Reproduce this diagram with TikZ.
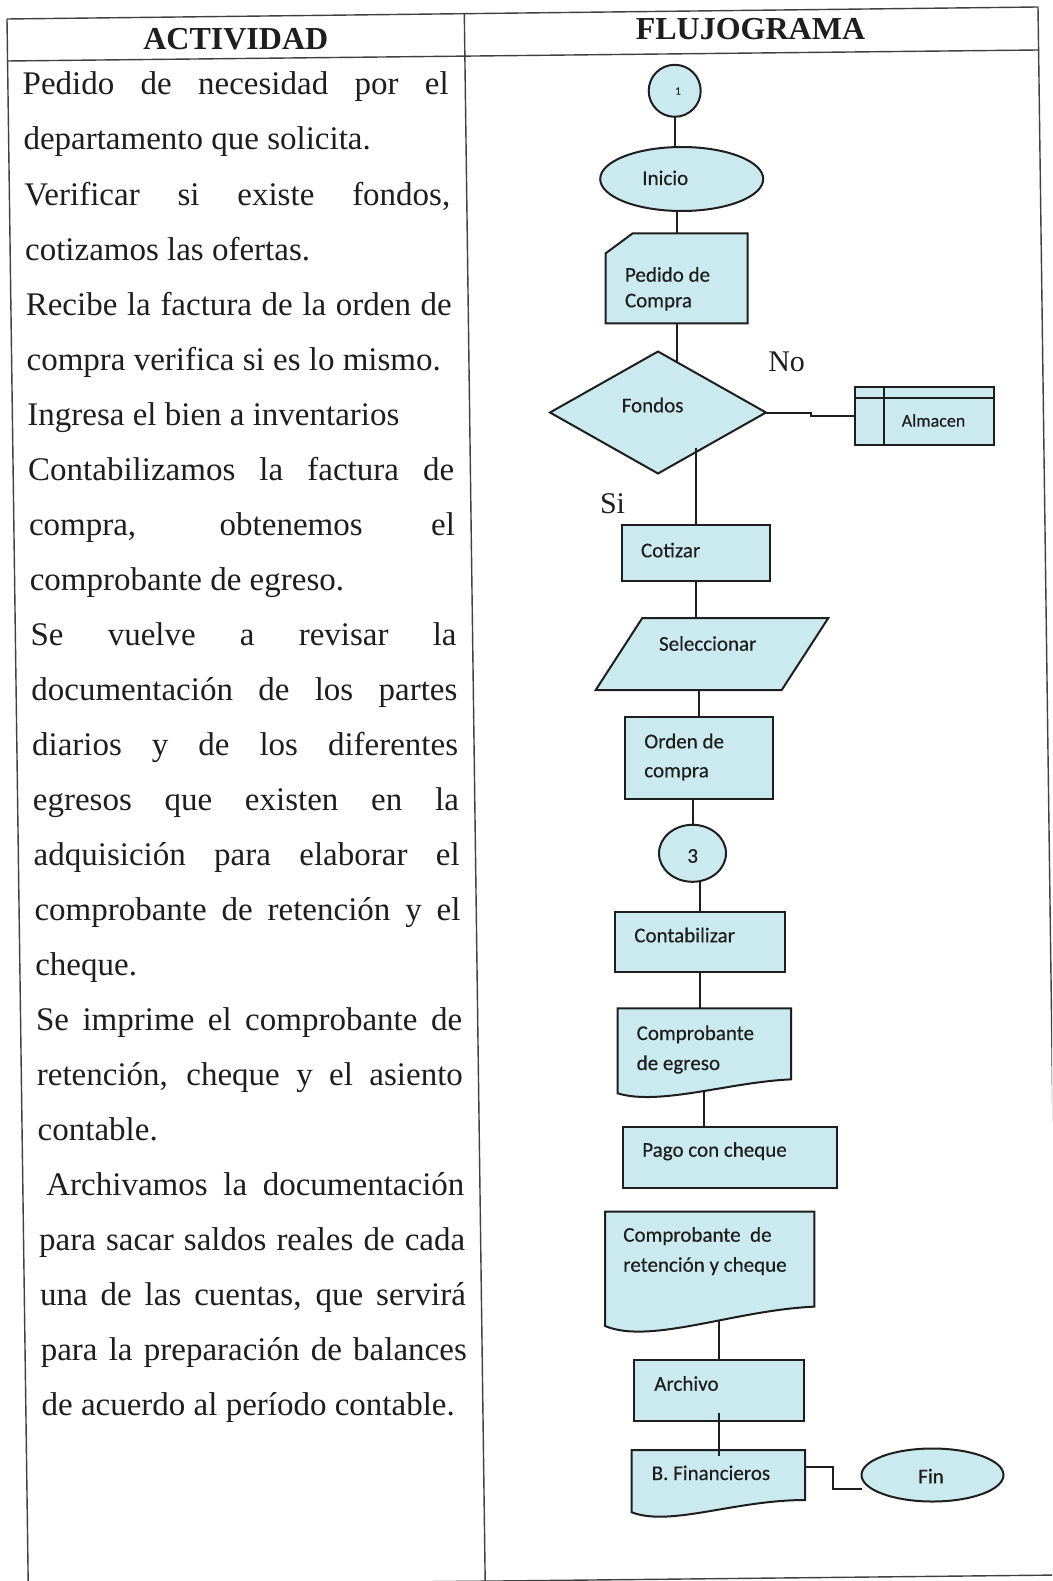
\documentclass[tikz,border=0pt]{standalone}
\usepackage{fontspec}
\setmainfont{Liberation Serif}
\newfontfamily\flowfont[FakeBold=0.4]{Carlito}
\usetikzlibrary{shapes.geometric,calc,backgrounds}
\definecolor{fillblue}{RGB}{203,234,240}
\definecolor{ink}{RGB}{30,30,30}
\tikzset{
  shp/.style={draw=ink, line width=2pt, fill=fillblue, inner sep=0pt, outer sep=0pt},
  ghost/.style={draw=none, fill=none, rectangle, inner sep=0pt, outer sep=0pt},
  conn/.style={draw=ink, line width=2pt},
  tbl/.style={draw=black!75, line width=1.4pt},
  lbl/.style={inner sep=0pt, outer sep=0pt, anchor=base west, text=ink, font=\flowfont\fontsize{21}{25}\selectfont},
  act/.style={inner sep=0pt, outer sep=0pt, anchor=base west, text=ink, font=\fontsize{33}{40}\selectfont},
  hdr/.style={inner sep=0pt, outer sep=0pt, anchor=base, text=ink, font=\bfseries\fontsize{32}{38}\selectfont},
  yn/.style={inner sep=0pt, outer sep=0pt, anchor=base west, text=ink, font=\fontsize{30}{36}\selectfont}
}
\newcommand{\jl}[1]{\makebox[426pt][s]{#1}}
\begin{document}
\begin{tikzpicture}[x=1pt, y=-1pt]
\useasboundingbox (0,0) rectangle (1052,1581);
\begin{pgfonlayer}{background}
  \fill[white] (0,0) rectangle (1052,1581);
\end{pgfonlayer}
\clip (0,0) rectangle (1052,1581);

% ---------- table ----------
\draw[tbl] (7,19) -- (1038,7);
\draw[tbl] (7,61) -- (1038,50);
\draw[tbl] (7,19) -- (28.3,1590);
\draw[tbl] (464.3,13.7) -- (485.3,1590);
\draw[tbl] (1038,7) -- (1059.2,1590);
\draw[tbl] (28,1586) -- (1059,1575);

\node[hdr] (h1) at (235.8,50) {ACTIVIDAD};
\node[hdr] (h2) at (750.5,40) {FLUJOGRAMA};

% ---------- activity text ----------
\node[act] (a1)  at (22.7,95)   {\jl{Pedido de necesidad por el}};
\node[act] (a2)  at (23.5,150)  {departamento que solicita.};
\node[act] (a3)  at (24.3,205)  {\jl{Verificar si existe fondos,}};
\node[act] (a4)  at (25.1,260)  {cotizamos las ofertas.};
\node[act] (a5)  at (25.8,315)  {\jl{Recibe la factura de la orden de}};
\node[act] (a6)  at (26.6,370)  {compra verifica si es lo mismo.};
\node[act] (a7)  at (27.4,425)  {Ingresa el bien a inventarios};
\node[act] (a8)  at (28.2,480)  {\jl{Contabilizamos la factura de}};
\node[act] (a9)  at (29.0,535)  {\jl{compra, obtenemos el}};
\node[act] (a10) at (29.8,590)  {comprobante de egreso.};
\node[act] (a11) at (30.6,645)  {\jl{Se vuelve a revisar la}};
\node[act] (a12) at (31.4,700)  {\jl{documentación de los partes}};
\node[act] (a13) at (32.1,755)  {\jl{diarios y de los diferentes}};
\node[act] (a14) at (32.9,810)  {\jl{egresos que existen en la}};
\node[act] (a15) at (33.7,865)  {\jl{adquisición para elaborar el}};
\node[act] (a16) at (34.5,920)  {\jl{comprobante de retención y el}};
\node[act] (a17) at (35.3,975)  {cheque.};
\node[act] (a18) at (36.1,1030) {\jl{Se imprime el comprobante de}};
\node[act] (a19) at (36.9,1085) {\jl{retención, cheque y el asiento}};
\node[act] (a20) at (37.7,1140) {contable.};
\node[act] (a21) at (46.4,1195) {\makebox[418pt][s]{Archivamos la documentación}};
\node[act] (a22) at (39.2,1250) {\jl{para sacar saldos reales de cada}};
\node[act] (a23) at (40.0,1305) {\jl{una de las cuentas, que servirá}};
\node[act] (a24) at (40.8,1360) {\jl{para la preparación de balances}};
\node[act] (a25) at (41.6,1415) {de acuerdo al período contable.};

% ---------- flowchart nodes ----------
\node[shp, circle, minimum size=52pt] (c1) at (674.7,90.8) {};
\node[shp, ellipse, minimum width=163pt, minimum height=64pt] (ini) at (681.7,179) {};
\node[ghost, minimum width=142pt, minimum height=90pt] (ped) at (676.7,278.3) {};
\node[shp, diamond, minimum width=216pt, minimum height=122pt] (dia) at (658,412.5) {};
\node[shp, rectangle, minimum width=139pt, minimum height=58pt] (alm) at (924.7,416) {};
\node[shp, rectangle, minimum width=148pt, minimum height=56pt] (cot) at (695.5,553) {};
\node[ghost, minimum width=232.6pt, minimum height=72pt] (sel) at (712,654) {};
\node[shp, rectangle, minimum width=148pt, minimum height=82pt] (ord) at (698.8,757.5) {};
\node[shp, ellipse, minimum width=67pt, minimum height=57pt] (c3) at (692.5,853.3) {};
\node[shp, rectangle, minimum width=170pt, minimum height=60pt] (cont) at (700,941.7) {};
\node[ghost, minimum width=173.3pt, minimum height=89.7pt] (egr) at (704.35,1053.2) {};
\node[shp, rectangle, minimum width=214pt, minimum height=61pt] (pago) at (729.7,1157) {};
\node[ghost, minimum width=209.3pt, minimum height=121.3pt] (ret) at (709.65,1272.3) {};
\node[shp, rectangle, minimum width=170pt, minimum height=61pt] (arch) at (719.3,1390.3) {};
\node[ghost, minimum width=173.3pt, minimum height=68pt] (bfin) at (718.35,1484) {};
\node[shp, ellipse, minimum width=142pt, minimum height=53pt] (fin) at (932.5,1475) {};

\coordinate (k3) at (811,412.5);
\coordinate (k1) at (833.3,1466.7);
\coordinate (k2) at (833.3,1489.3);

% ---------- connectors (beneath the shapes) ----------
\begin{pgfonlayer}{background}
  \draw[conn] (c1.center) -- (c1.center |- ini.center);
  \draw[conn] (ped.center |- ini.center) -- (ped.center);
  \draw[conn] (ped.center) -- (ped.center |- dia.center);
  \draw[conn] (dia.center) -- (k3) -- (k3 |- alm.center) -- (alm.center);
  \draw[conn] (cot.center) -- (cot.center |- sel.center);
  \draw[conn] (ord.center |- sel.center) -- (ord.center);
  \draw[conn] (c3.center |- ord.center) -- (c3.center);
  \draw[conn] (cont.center |- c3.center) -- (cont.center);
  \draw[conn] (cont.center) -- (cont.center |- egr.center);
  \draw[conn] (egr.center) -- (egr.center |- pago.center);
  \draw[conn] (arch.center |- ret.center) -- (arch.center);
\end{pgfonlayer}

% ---------- custom outlines ----------
\draw[shp] ($(ped.north west)+(27,0)$) -- (ped.north east) -- (ped.south east)
  -- (ped.south west) -- ($(ped.north west)+(0,20)$) -- cycle;
\draw[shp] ($(sel.north west)+(46.6,0)$) -- (sel.north east)
  -- ($(sel.south east)+(-46.6,0)$) -- (sel.south west) -- cycle;
\draw[shp] (egr.north west) -- (egr.north east) -- ($(egr.north east)+(0,71)$)
  .. controls (730,1082) and (660,1106) .. ($(egr.north west)+(0,85)$) -- cycle;
\draw[shp] (ret.north west) -- (ret.north east) -- ($(ret.north east)+(0,95)$)
  .. controls (735,1310) and (650,1345) .. ($(ret.north west)+(0,114.3)$) -- cycle;
\draw[shp] (bfin.north west) -- (bfin.north east) -- ($(bfin.north east)+(0,50)$)
  .. controls (735,1500) and (670,1527) .. ($(bfin.north west)+(0,62.3)$) -- cycle;
\draw[draw=ink, line width=2pt] ($(alm.north west)+(0,11)$) -- ($(alm.north east)+(0,11)$);
\draw[draw=ink, line width=2pt] ($(alm.north west)+(28.3,0)$) -- ($(alm.south west)+(28.3,0)$);

% connectors that show over the shapes, as in the scan
\draw[conn] ($(cot.center |- dia.center)+(0,35.5)$) -- (cot.north);
\draw[conn] ($(arch.center |- arch.south)+(0,-8)$) -- ($(arch.center |- bfin.north)+(0,6)$);
\draw[conn] (bfin.north east |- k1) -- (k1) -- (k2) -- (fin.west |- k2);

% ---------- flowchart texts ----------
\node[lbl, anchor=center, font=\flowfont\fontsize{11}{13}\selectfont] (t1) at (678,91) {1};
\node[lbl] (tini) at (642.3,185) {Inicio};
\node[lbl] (tped1) at (625,281.7) {Pedido de};
\node[lbl] (tped2) at (625,307.3) {Compra};
\node[lbl] (tfon) at (621.7,412.3) {Fondos};
\node[lbl, font=\flowfont\fontsize{18}{22}\selectfont] (talm) at (901.7,426.7) {Almacen};
\node[yn] (tno) at (768.3,371.7) {No};
\node[yn] (tsi) at (600,513.3) {Si};
\node[lbl] (tcot) at (641,557.3) {Cotizar};
\node[lbl] (tsel) at (659,650.7) {Seleccionar};
\node[lbl] (tord1) at (644.3,748.3) {Orden de};
\node[lbl] (tord2) at (644.3,777.3) {compra};
\node[lbl, anchor=center] (t3) at (692.7,856) {3};
\node[lbl] (tcont) at (634.3,942.3) {Contabilizar};
\node[lbl] (tegr1) at (636.7,1040) {Comprobante};
\node[lbl] (tegr2) at (636.7,1070) {de egreso};
\node[lbl] (tpago) at (642.3,1156.7) {Pago con cheque};
\node[lbl] (tret1) at (623.3,1241.7) {Comprobante\ \ de};
\node[lbl] (tret2) at (623.3,1271.7) {retención y cheque};
\node[lbl] (tarch) at (654.3,1390.7) {Archivo};
\node[lbl] (tbfin) at (651.7,1480) {B. Financieros};
\node[lbl] (tfin) at (918.3,1483.3) {Fin};
\end{tikzpicture}
\end{document}
